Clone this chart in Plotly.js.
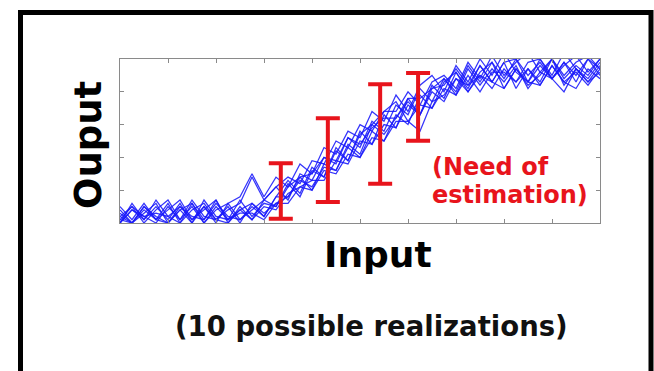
<!DOCTYPE html>
<html>
<head>
<meta charset="utf-8">
<script src="https://cdn.plot.ly/plotly-3.0.1.min.js"></script>
<style>html,body{margin:0;padding:0;background:#fff;}#chart{width:654px;height:371px;}</style>
</head>
<body>
<div id="chart"></div>
<script>
// Input positions (41 samples over the axis 0..10)
const xStart = 0, xStep = 0.25, nPts = 41;

// Ten possible realizations (output values, axis 0..5)
const real1 = [0.0,0.6,0.1,0.7,0.2,0.0,0.6,0.1,0.7,0.0,0.4,0.1,0.7,1.1,0.7,1.5,1.3,2.0,1.8,2.6,2.3,3.1,2.8,3.6,3.3,4.1,3.7,4.4,4.0,4.8,4.3,4.9,4.4,5.0,4.3,4.8,4.4,4.9,4.5,5.0,4.7];
const real2 = [0.1,0.0,0.5,0.1,0.4,0.7,0.1,0.5,0.0,0.6,0.1,0.5,0.2,0.8,1.3,0.9,1.7,1.4,2.2,1.9,2.8,2.4,3.3,2.9,3.8,3.3,4.2,3.8,4.6,4.1,4.8,4.3,4.9,4.1,4.7,4.3,5.0,4.4,4.8,4.5,5.0];
const real3 = [0.4,0.0,0.3,0.6,0.0,0.4,0.0,0.7,0.2,0.1,0.7,0.2,0.6,0.5,1.1,1.4,1.0,1.8,1.6,2.3,2.0,2.8,2.5,3.3,3.0,3.9,3.5,4.3,4.6,4.0,4.6,4.9,4.1,4.7,4.2,4.5,5.0,4.2,4.7,4.3,4.6];
const real4 = [0.2,0.5,0.0,0.4,0.7,0.1,0.5,0.0,0.4,0.6,0.8,1.5,0.8,1.4,1.1,1.8,1.5,2.3,2.1,2.8,2.6,3.4,3.1,3.9,3.4,4.2,4.5,4.0,4.8,4.3,5.0,4.5,5.2,4.6,4.3,5.0,4.5,5.2,4.7,4.4,4.9];
const real5 = [0.0,0.4,0.2,0.0,0.5,0.1,0.7,0.2,0.1,0.5,0.0,0.6,0.3,0.6,0.8,1.3,1.1,1.7,1.6,2.4,2.1,3.0,2.7,3.2,3.7,3.3,4.1,4.4,3.9,4.7,4.2,4.7,4.3,4.8,4.1,4.6,4.4,4.0,4.7,4.3,4.8];
const real6 = [0.5,0.1,0.6,0.1,0.0,0.5,0.2,0.1,0.6,0.2,0.1,0.4,0.7,0.5,1.2,0.8,1.6,1.4,2.3,1.9,2.7,3.0,3.4,3.7,3.1,2.8,3.7,3.9,4.4,4.0,4.5,4.1,4.7,4.3,4.9,5.0,4.4,4.9,4.3,5.0,4.5];
const real7 = [0.0,0.4,0.1,0.5,0.1,0.6,0.0,0.5,0.1,0.4,0.6,1.4,0.7,1.1,1.4,1.2,1.9,1.8,2.5,2.3,3.0,2.8,3.4,3.4,4.0,3.6,4.3,4.5,4.1,4.9,4.4,5.1,4.5,4.9,5.2,4.6,5.0,4.5,4.9,5.1,4.7];
const real8 = [0.3,0.0,0.4,0.1,0.6,0.0,0.4,0.6,0.1,0.0,0.5,0.1,0.5,0.4,0.9,1.1,1.3,1.3,1.9,1.8,2.5,2.4,3.0,2.9,3.6,3.3,4.0,3.7,4.4,4.2,4.5,4.3,4.1,4.7,4.3,4.2,4.8,4.3,4.1,4.7,4.4];
const real9 = [0.1,0.5,0.2,0.3,0.2,0.5,0.1,0.4,0.7,0.1,0.4,0.6,0.2,0.8,0.8,1.4,1.5,2.0,1.9,2.6,2.4,2.9,3.2,3.2,3.8,3.8,4.1,4.2,4.7,4.2,4.8,4.3,4.9,5.0,4.5,4.9,4.4,4.8,5.1,4.6,5.0];
const real10 = [0.2,0.0,0.5,0.2,0.0,0.4,0.6,0.0,0.5,0.1,0.3,0.3,0.1,0.6,0.6,1.1,1.0,1.6,1.5,2.1,2.0,2.6,2.5,3.1,3.1,3.6,3.5,4.1,3.9,4.5,4.0,4.6,4.6,4.3,4.7,4.2,4.8,4.3,4.6,4.2,4.7];

// Uncertainty bars ("Need of estimation")
const errX = [3.35, 4.33, 5.42, 6.21];
const errLow = [0.13, 0.64, 1.20, 2.51];
const errHigh = [1.82, 3.19, 4.23, 4.57];

// Texts
const xTitle = 'Input';
const yTitle = 'Ouput';
const noteLine1 = '(Need of';
const noteLine2 = 'estimation)';
const caption = '(10 possible realizations)';

const xs = [];
for (let i = 0; i < nPts; i++) xs.push(xStart + i * xStep);

const reals = [real1, real2, real3, real4, real5, real6, real7, real8, real9, real10];
const traces = reals.map(r => ({
  x: xs, y: r, type: 'scatter', mode: 'lines',
  line: {color: 'rgba(25,25,250,0.88)', width: 1.25},
  hoverinfo: 'skip', showlegend: false
}));

const errMid = errLow.map((lo, i) => (lo + errHigh[i]) / 2);
const errHalf = errLow.map((lo, i) => (errHigh[i] - lo) / 2);
traces.push({
  x: errX, y: errMid, type: 'scatter', mode: 'markers',
  marker: {size: 1, color: 'rgba(0,0,0,0)'},
  error_y: {type: 'data', array: errHalf, visible: true, color: '#e8141c', thickness: 4, width: 12},
  showlegend: false, hoverinfo: 'skip'
});

const PL = 120, PR = 600, PT = 59, PB = 223;
const px2x = p => (p - PL) / (PR - PL);
const px2y = p => (PB - p) / (PB - PT);

const bold = {family: 'DejaVu Sans', weight: 'bold'};

const layout = {
  width: 654, height: 371,
  margin: {l: PL, r: 654 - PR, t: PT, b: 371 - PB, pad: 0},
  paper_bgcolor: '#ffffff', plot_bgcolor: '#ffffff',
  showlegend: false,
  xaxis: {range: [0, 10], dtick: 1, tick0: 0, ticks: 'inside', ticklen: 4, tickcolor: '#8a8a8a',
          showline: true, linecolor: '#8a8a8a', linewidth: 1, mirror: 'ticks',
          showgrid: false, zeroline: false, showticklabels: false, fixedrange: true},
  yaxis: {range: [0, 5], dtick: 1, tick0: 0, ticks: 'inside', ticklen: 4, tickcolor: '#8a8a8a',
          showline: true, linecolor: '#8a8a8a', linewidth: 1, mirror: 'ticks',
          showgrid: false, zeroline: false, showticklabels: false, fixedrange: true},
  annotations: [
    {text: xTitle, xref: 'paper', yref: 'paper', x: px2x(378), y: px2y(254), xanchor: 'center', yanchor: 'middle',
     showarrow: false, font: Object.assign({size: 36, color: '#000'}, bold)},
    {text: yTitle, xref: 'paper', yref: 'paper', x: px2x(88), y: px2y(145), xanchor: 'center', yanchor: 'middle',
     textangle: -90, showarrow: false, font: Object.assign({size: 37, color: '#000'}, bold)},
    {text: noteLine1, xref: 'paper', yref: 'paper', x: px2x(430), y: px2y(166.7), xanchor: 'left', yanchor: 'middle',
     showarrow: false, font: Object.assign({size: 24, color: '#e8141c'}, bold)},
    {text: noteLine2, xref: 'paper', yref: 'paper', x: px2x(430), y: px2y(195), xanchor: 'left', yanchor: 'middle',
     showarrow: false, font: Object.assign({size: 24, color: '#e8141c'}, bold)},
    {text: caption, xref: 'paper', yref: 'paper', x: px2x(371.5), y: px2y(325.5), xanchor: 'center', yanchor: 'middle',
     showarrow: false, font: Object.assign({size: 27.5, color: '#111'}, bold)}
  ],
  shapes: [
    {type: 'rect', xref: 'paper', yref: 'paper', x0: px2x(20.5), x1: px2x(651), y0: px2y(12.5), y1: px2y(400),
     line: {color: '#000', width: 5}, fillcolor: 'rgba(0,0,0,0)', layer: 'above'}
  ]
};

Plotly.newPlot('chart', traces, layout, {staticPlot: true, displayModeBar: false});
</script>
</body>
</html>
